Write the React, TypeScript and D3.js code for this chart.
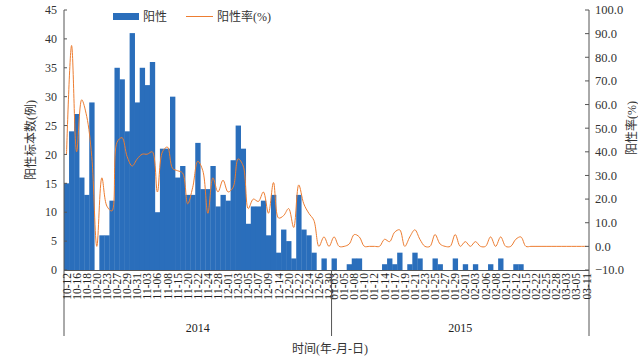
import { useEffect, useRef } from "react";
import * as d3 from "d3";

// sample dates (every other one is shown on the axis)
const dates2014 = [
  "10-12", "10-14", "10-16", "10-17", "10-18", "10-19", "10-20", "10-21", "10-23", "10-25",
  "10-27", "10-28", "10-29", "10-30", "10-31", "11-01", "11-03", "11-05", "11-06", "11-07",
  "11-08", "11-12", "11-15", "11-18", "11-20", "11-21", "11-22", "11-23", "11-24", "11-26",
  "11-28", "11-30", "12-01", "12-02", "12-03", "12-04", "12-05", "12-06", "12-07", "12-08",
  "12-09", "12-11", "12-14", "12-17", "12-20", "12-21", "12-22", "12-23", "12-24", "12-25",
  "12-26", "12-28", "12-30",
];
const dates2015 = [
  "01-03", "01-04", "01-05", "01-07", "01-08", "01-09", "01-10", "01-11", "01-12", "01-13",
  "01-14", "01-16", "01-17", "01-18", "01-19", "01-20", "01-21", "01-22", "01-23", "01-24",
  "01-25", "01-26", "01-27", "01-28", "01-29", "01-31", "02-01", "02-02", "02-03", "02-05",
  "02-06", "02-07", "02-08", "02-09", "02-10", "02-11", "02-12", "02-14", "02-15", "02-18",
  "02-22", "02-24", "02-25", "02-27", "02-28", "03-02", "03-03", "03-04", "03-05", "03-08",
  "03-11",
];

const positives2014 = [
  15, 24, 27, 16, 13, 29, 0, 6, 6, 12, 35, 33, 24, 41, 29, 35, 32, 36, 10, 21,
  21, 30, 16, 18, 13, 13, 22, 14, 14, 18, 11, 13, 12, 19, 25, 21, 8, 11, 11, 12,
  6, 13, 3, 7, 5, 2, 13, 7, 6, 3, 0, 2, 0,
];
const positives2015 = [
  2, 0, 0, 1, 2, 2, 0, 0, 0, 0, 1, 2, 1, 3, 0, 1, 3, 2, 0, 0,
  2, 1, 0, 0, 2, 0, 1, 0, 1, 0, 0, 1, 0, 2, 0, 0, 1, 1, 0, 0,
  0, 0, 0, 0, 0, 0, 0, 0, 0, 0, 0,
];

const rate2014 = [
  39, 85, 40, 62, 55, 38, 0, 29, 17, 15, 44, 46, 38, 34, 37, 39, 39, 40, 23, 40,
  42, 33, 32, 31, 18, 25, 36, 32, 14, 29, 23, 28, 23, 25, 37, 34, 16, 20, 19, 23,
  14, 27, 12, 13, 16, 8, 26, 18, 14, 11, 0, 4, 0,
];
const rate2015 = [
  4, 0, 0, 1, 5, 4, 0, 0, 0, 0, 3, 2, 6, 7, 0, 4, 7, 3, 0, 0,
  5, 1, 0, 0, 5, 0, 2, 0, 2, 0, 0, 4, 0, 4, 0, 0, 3, 4, 0, 0,
  0, 0, 0, 0, 0, 0, 0, 0, 0, 0, 0,
];

const years = ["2014", "2015"];
const countTicks = [0, 5, 10, 15, 20, 25, 30, 35, 40, 45];
const rateTicks = [-10, 0, 10, 20, 30, 40, 50, 60, 70, 80, 90, 100];

const BLUE = "#2A6EBB";
const ORANGE = "#ED7D31";
const NUM_FONT = "'Liberation Serif', 'Times New Roman', serif";
const CJK_FONT = "'Liberation Serif', 'Noto Sans CJK SC', serif";

export default function App() {
  const svgRef = useRef<SVGSVGElement>(null);

  useEffect(() => {
    const svg = d3.select(svgRef.current);
    svg.selectAll("*").remove();

    const W = 638;
    const H = 359;
    const left = 64;
    const right = 589;
    const top = 10;
    const bottom = 270;

    const rows = [
      ...dates2014.map((d, i) => ({ key: `2014-${d}`, date: d, year: 0, gi: i, n: positives2014[i], r: rate2014[i] })),
      ...dates2015.map((d, i) => ({ key: `2015-${d}`, date: d, year: 1, gi: i, n: positives2015[i], r: rate2015[i] })),
    ];

    const x = d3.scaleBand<string>().domain(rows.map((d) => d.key)).range([left, right]).padding(0);
    const yL = d3.scaleLinear().domain([0, 45]).range([bottom, top]);
    const yR = d3.scaleLinear().domain([-10, 100]).range([bottom, top]);
    const bw = x.bandwidth();

    svg.attr("width", W).attr("height", H);
    svg.append("rect").attr("width", W).attr("height", H).attr("fill", "#fff");

    // bars
    svg
      .append("g")
      .selectAll("rect")
      .data(rows)
      .join("rect")
      .attr("x", (d) => x(d.key)!)
      .attr("width", bw + 0.3)
      .attr("y", (d) => yL(d.n))
      .attr("height", (d) => yL(0) - yL(d.n))
      .attr("fill", BLUE);

    // rate line
    const line = d3
      .line<(typeof rows)[number]>()
      .x((d) => x(d.key)! + bw / 2)
      .y((d) => yR(d.r))
      .curve(d3.curveCatmullRom.alpha(0.5));
    svg
      .append("path")
      .attr("d", line(rows))
      .attr("fill", "none")
      .attr("stroke", ORANGE)
      .attr("stroke-width", 1);

    const axisColor = "#555";

    // left axis
    const gl = svg.append("g").attr("font-family", NUM_FONT).attr("font-size", 12).attr("fill", "#333");
    gl.append("line").attr("x1", left).attr("x2", left).attr("y1", top).attr("y2", 336).attr("stroke", axisColor);
    countTicks.forEach((t) => {
      gl.append("line").attr("x1", left).attr("x2", left + 3).attr("y1", yL(t)).attr("y2", yL(t)).attr("stroke", axisColor);
      gl.append("text").attr("x", left - 7).attr("y", yL(t)).attr("dy", "0.35em").attr("text-anchor", "end").text(t);
    });

    // right axis
    const gr = svg.append("g").attr("font-family", NUM_FONT).attr("font-size", 12.5).attr("fill", "#333");
    gr.append("line").attr("x1", right).attr("x2", right).attr("y1", top).attr("y2", 336).attr("stroke", axisColor);
    rateTicks.forEach((t) => {
      gr.append("line").attr("x1", right - 4).attr("x2", right).attr("y1", yR(t)).attr("y2", yR(t)).attr("stroke", axisColor);
      gr.append("text").attr("x", right + 6).attr("y", yR(t)).attr("dy", "0.35em").text(d3.format(".1f")(t));
    });

    // category axis
    svg.append("line").attr("x1", left).attr("x2", right).attr("y1", bottom + 0.5).attr("y2", bottom + 0.5).attr("stroke", axisColor);
    const gx = svg.append("g").attr("font-family", NUM_FONT).attr("font-size", 11.5).attr("fill", "#222");
    rows
      .filter((d) => d.gi % 2 === 0)
      .forEach((d) => {
        const cx = x(d.key)! + bw / 2;
        gx.append("text")
          .attr("transform", `translate(${cx},${bottom + 3}) rotate(-90)`)
          .attr("text-anchor", "end")
          .attr("dy", "0.35em")
          .text(d.date);
      });

    // year groups
    const split = x(`2015-${dates2015[0]}`)!;
    svg.append("line").attr("x1", split).attr("x2", split).attr("y1", bottom).attr("y2", 336).attr("stroke", axisColor);
    const gy = svg.append("g").attr("font-family", NUM_FONT).attr("font-size", 12).attr("fill", "#222").attr("text-anchor", "middle");
    gy.append("text").attr("x", (left + split) / 2).attr("y", 332).text(years[0]);
    gy.append("text").attr("x", (split + right) / 2).attr("y", 332).text(years[1]);

    // titles
    svg
      .append("text")
      .attr("x", 330)
      .attr("y", 353)
      .attr("text-anchor", "middle")
      .attr("font-family", CJK_FONT)
      .attr("font-size", 12)
      .attr("fill", "#333")
      .text("时间(年-月-日)");
    svg
      .append("text")
      .attr("transform", `translate(31,${(top + bottom) / 2}) rotate(-90)`)
      .attr("text-anchor", "middle")
      .attr("dy", "0.35em")
      .attr("font-family", CJK_FONT)
      .attr("font-size", 12)
      .attr("fill", "#333")
      .text("阳性标本数(例)");
    svg
      .append("text")
      .attr("transform", `translate(632,128) rotate(-90)`)
      .attr("text-anchor", "middle")
      .attr("dy", "0.35em")
      .attr("font-family", CJK_FONT)
      .attr("font-size", 12)
      .attr("fill", "#333")
      .text("阳性率(%)");

    // legend
    const lg = svg.append("g").attr("font-family", CJK_FONT).attr("font-size", 12).attr("fill", "#333");
    lg.append("rect").attr("x", 113).attr("y", 13).attr("width", 26).attr("height", 7).attr("fill", BLUE);
    lg.append("text").attr("x", 143).attr("y", 17).attr("dy", "0.35em").text("阳性");
    lg.append("line").attr("x1", 186).attr("x2", 213).attr("y1", 16.5).attr("y2", 16.5).attr("stroke", ORANGE);
    lg.append("text").attr("x", 217).attr("y", 17).attr("dy", "0.35em").text("阳性率(%)");
  }, []);

  return <svg ref={svgRef} style={{ position: "absolute", left: 0, top: 0 }} />;
}
